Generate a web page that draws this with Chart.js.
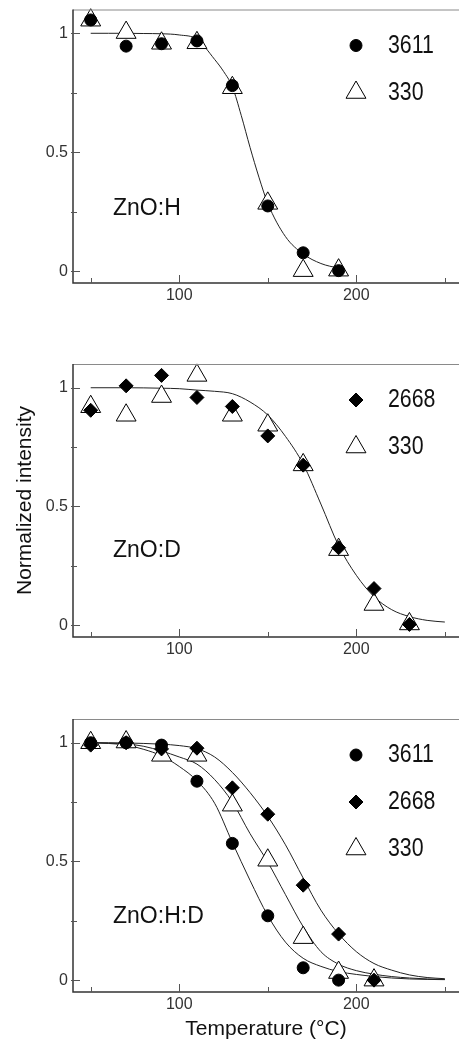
<!DOCTYPE html>
<html>
<head>
<meta charset="utf-8">
<title>Normalized intensity vs temperature</title>
<script src="https://cdn.jsdelivr.net/npm/chart.js@4.4.1/dist/chart.umd.min.js"></script>
<style>
  html, body { margin: 0; padding: 0; background: #fff; }
  body { position: relative; width: 459px; height: 1042px; overflow: hidden; }
  canvas { position: absolute; left: 0; }
</style>
</head>
<body>
<canvas id="panelH" width="459" height="330" style="top:0px"></canvas>
<canvas id="panelD" width="459" height="340" style="top:340px"></canvas>
<canvas id="panelHD" width="459" height="342" style="top:700px"></canvas>
<script>
/* Annealing series for ZnO:H, ZnO:D and ZnO:H:D
 * normalized IR line intensity (3611, 2668, 330 cm-1) vs. temperature
 */
'use strict';

// axis ticks
var xTickValues = [50, 100, 150, 200, 250];
var xTickLabels = ['', '100', '', '200', ''];
var yTickValues = [0, 0.25, 0.5, 0.75, 1];
var yTickLabels = ['0', '', '0.5', '', '1'];

// ZnO:H
var hTemps = [50, 70, 90, 110, 130, 150, 170, 190];
var h3611 = [1.056, 0.946, 0.956, 0.968, 0.78, 0.274, 0.077, 0.002];
var h330 = [1.055, 1.003, 0.958, 0.96, 0.771, 0.285, 0.002, 0.004];
var hFitTemps = [50, 60, 70, 80, 90, 100, 110, 120, 125, 130, 135, 140, 145, 150, 160, 170, 180, 190];
var hFit = [1.0, 1.0, 1.0, 0.999, 0.998, 0.993, 0.975, 0.89, 0.84, 0.775, 0.655, 0.52, 0.395, 0.285, 0.145, 0.072, 0.032, 0.012];

// ZnO:D
var dTemps = [50, 70, 90, 110, 130, 150, 170, 190, 210, 230];
var d2668 = [0.905, 1.008, 1.052, 0.959, 0.921, 0.797, 0.674, 0.326, 0.154, 0.003];
var d330 = [0.92, 0.884, 0.963, 1.052, 0.884, 0.842, 0.675, 0.318, 0.087, 0.005];
var dFitTemps = [50, 70, 90, 100, 110, 120, 130, 140, 150, 160, 170, 180, 190, 200, 210, 220, 230, 240, 250];
var dFit = [1.0, 1.0, 0.998, 0.996, 0.99, 0.985, 0.975, 0.94, 0.885, 0.795, 0.678, 0.51, 0.335, 0.21, 0.12, 0.065, 0.036, 0.02, 0.013];

// ZnO:H:D
var hd3611Temps = [50, 70, 90, 110, 130, 150, 170, 190];
var hd3611 = [1.0, 1.0, 0.99, 0.838, 0.576, 0.271, 0.052, 0.0];
var hdTemps = [50, 70, 90, 110, 130, 150, 170, 190, 210];
var hd2668 = [0.99, 1.0, 0.974, 0.977, 0.81, 0.699, 0.4, 0.194, 0.0];
var hd330 = [1.0, 1.003, 0.947, 0.947, 0.737, 0.505, 0.179, 0.032, 0.0];
var hdFitTemps = [50, 60, 70, 80, 90, 100, 110, 120, 130, 140, 150, 160, 170, 180, 190, 200, 210, 220, 230, 240, 250];
var hdFit3611 = [1.0, 0.997, 0.99, 0.972, 0.945, 0.9, 0.84, 0.745, 0.58, 0.42, 0.272, 0.16, 0.092, 0.058, 0.036, 0.024, 0.015, 0.009, 0.005, 0.003, 0.002];
var hdFit330 = [1.0, 0.998, 0.995, 0.985, 0.965, 0.94, 0.91, 0.845, 0.75, 0.617, 0.497, 0.36, 0.225, 0.12, 0.067, 0.04, 0.025, 0.015, 0.009, 0.005, 0.003];
var hdFit2668 = [1.0, 1.0, 0.999, 0.997, 0.994, 0.988, 0.975, 0.94, 0.875, 0.79, 0.69, 0.57, 0.43, 0.295, 0.195, 0.12, 0.07, 0.042, 0.022, 0.011, 0.006];

Chart.defaults.font.family = '"Liberation Sans", Arial, sans-serif';

function pts(xs, ys) {
  return xs.map(function (x, i) { return { x: x, y: ys[i] }; });
}

function circles(label, xs, ys) {
  return {
    label: label, data: pts(xs, ys), pointStyle: 'circle', pointRadius: 6,
    pointBackgroundColor: '#000', pointBorderColor: '#000', pointBorderWidth: 1,
    order: 2, clip: false
  };
}

function diamonds(label, xs, ys) {
  return {
    label: label, data: pts(xs, ys), pointStyle: 'rectRot', pointRadius: 7,
    pointBackgroundColor: '#000', pointBorderColor: '#000', pointBorderWidth: 1,
    order: 1, clip: false
  };
}

function triangles(label, xs, ys) {
  return {
    label: label, data: pts(xs, ys), pointStyle: 'triangle', pointRadius: 11.5,
    pointBackgroundColor: '#fff', pointBorderColor: '#000', pointBorderWidth: 1,
    order: 3, clip: false
  };
}

function fitLine(xs, ys) {
  return {
    label: 'fit', data: pts(xs, ys), showLine: true, pointRadius: 0,
    borderColor: '#222', borderWidth: 1, fill: false,
    cubicInterpolationMode: 'monotone', order: 4
  };
}

// frame: grey top rule, dark left/bottom axes, inward ticks
var frameTicks = {
  id: 'frameTicks',
  afterDraw: function (chart) {
    var ctx = chart.ctx, a = chart.chartArea;
    var xs = chart.scales.x, ys = chart.scales.y;
    ctx.save();
    ctx.strokeStyle = '#8a8a8a';
    ctx.lineWidth = 1;
    ctx.beginPath();
    ctx.moveTo(a.left, a.top + 0.5);
    ctx.lineTo(a.right, a.top + 0.5);
    ctx.stroke();

    ctx.strokeStyle = '#333';
    ctx.lineWidth = 1.5;
    ctx.beginPath();
    ctx.moveTo(a.left, a.top);
    ctx.lineTo(a.left, a.bottom);
    ctx.lineTo(a.right, a.bottom);
    ctx.stroke();

    ctx.lineWidth = 1;
    ctx.strokeStyle = '#555';
    xTickValues.forEach(function (v, i) {
      var px = Math.round(xs.getPixelForValue(v)) + 0.5;
      var len = xTickLabels[i] ? 8 : 5;
      ctx.beginPath();
      ctx.moveTo(px, a.bottom);
      ctx.lineTo(px, a.bottom - len);
      ctx.stroke();
    });
    yTickValues.forEach(function (v, i) {
      var py = Math.round(ys.getPixelForValue(v)) + 0.5;
      var len = yTickLabels[i] ? 7 : 4;
      ctx.beginPath();
      ctx.moveTo(a.left - 2, py);
      ctx.lineTo(a.left + len, py);
      ctx.stroke();
    });
    ctx.restore();
  }
};

// marker legend in the upper right of the plot
var markerLegend = {
  id: 'markerLegend',
  afterDraw: function (chart, args, opts) {
    var ctx = chart.ctx, a = chart.chartArea;
    (opts.items || []).forEach(function (idx, i) {
      var ds = chart.data.datasets[idx];
      var x = a.left + opts.dx;
      var y = a.top + opts.dy + i * opts.gap;
      ctx.save();
      ctx.fillStyle = ds.pointBackgroundColor;
      ctx.strokeStyle = ds.pointBorderColor;
      ctx.lineWidth = ds.pointBorderWidth;
      Chart.helpers.drawPoint(ctx, {
        pointStyle: ds.pointStyle, radius: ds.pointRadius,
        borderWidth: ds.pointBorderWidth, rotation: 0
      }, x, y);
      ctx.fillStyle = '#111';
      ctx.font = '26px "Liberation Sans", Arial, sans-serif';
      ctx.textBaseline = 'middle';
      ctx.textAlign = 'left';
      ctx.translate(x + opts.textDx, y);
      ctx.scale(0.82, 1);
      ctx.fillText(ds.label, 0, 0);
      ctx.restore();
    });
  }
};

// sample name placed in data coordinates
var panelText = {
  id: 'panelText',
  afterDraw: function (chart, args, opts) {
    if (!opts.text) return;
    var ctx = chart.ctx;
    ctx.save();
    ctx.fillStyle = '#111';
    ctx.font = '23px "Liberation Sans", Arial, sans-serif';
    ctx.textBaseline = 'alphabetic';
    ctx.textAlign = 'left';
    ctx.fillText(opts.text, chart.scales.x.getPixelForValue(opts.x), chart.scales.y.getPixelForValue(opts.y));
    ctx.restore();
  }
};

function buildPanel(id, datasets, o) {
  var tickFont = { size: 16 };
  return new Chart(document.getElementById(id), {
    type: 'scatter',
    data: { datasets: datasets },
    options: {
      responsive: false,
      animation: false,
      events: [],
      layout: { autoPadding: false, padding: { top: o.padTop, left: 0, right: 0, bottom: 0 } },
      plugins: {
        legend: { display: false },
        tooltip: { enabled: false },
        markerLegend: { items: o.legend, dx: 283, dy: 36, gap: 47, textDx: 32 },
        panelText: { text: o.name, x: 62.6, y: o.nameY }
      },
      scales: {
        x: {
          type: 'linear', min: 40, max: 258,
          grid: { display: false, drawTicks: false },
          border: { display: false },
          afterBuildTicks: function (s) { s.ticks = xTickValues.map(function (v) { return { value: v }; }); },
          afterFit: function (s) {
            s.height = o.xHeight;
            s.paddingLeft = 0;
            s.paddingRight = 0;
          },
          ticks: {
            padding: 3, color: '#333', font: tickFont, autoSkip: false, maxRotation: 0,
            callback: function (v, i) { return xTickLabels[i]; }
          },
          title: {
            display: !!o.xTitle, text: o.xTitle || '', color: '#111',
            font: { size: 21 }, padding: { top: 0, bottom: 0 }
          }
        },
        y: {
          min: -0.05, max: 1.1,
          grid: { display: false, drawTicks: false },
          border: { display: false },
          afterBuildTicks: function (s) { s.ticks = yTickValues.map(function (v) { return { value: v }; }); },
          afterFit: function (s) {
            s.width = 73;
            s.paddingTop = 0;
            s.paddingBottom = 0;
          },
          ticks: {
            padding: 5, color: '#333', font: tickFont, autoSkip: false,
            callback: function (v, i) { return yTickLabels[i]; }
          },
          title: {
            display: !!o.yTitle, text: o.yTitle || '', color: '#111',
            font: { size: 21 }, padding: { top: 13, bottom: 0 }
          }
        }
      }
    },
    plugins: [frameTicks, markerLegend, panelText]
  });
}

buildPanel('panelH', [
  circles('3611', hTemps, h3611),
  triangles('330', hTemps, h330),
  fitLine(hFitTemps, hFit)
], { padTop: 9.5, xHeight: 47, legend: [0, 1], name: 'ZnO:H', nameY: 0.236 });

buildPanel('panelD', [
  diamonds('2668', dTemps, d2668),
  triangles('330', dTemps, d330),
  fitLine(dFitTemps, dFit)
], { padTop: 24, xHeight: 43, legend: [0, 1], name: 'ZnO:D', nameY: 0.287, yTitle: 'Normalized intensity' });

buildPanel('panelHD', [
  circles('3611', hd3611Temps, hd3611),
  diamonds('2668', hdTemps, hd2668),
  triangles('330', hdTemps, hd330),
  fitLine(hdFitTemps, hdFit3611),
  fitLine(hdFitTemps, hdFit330),
  fitLine(hdFitTemps, hdFit2668)
], { padTop: 19, xHeight: 50, legend: [0, 1, 2], name: 'ZnO:H:D', nameY: 0.239, xTitle: 'Temperature (\u00B0C)' });
</script>
</body>
</html>
